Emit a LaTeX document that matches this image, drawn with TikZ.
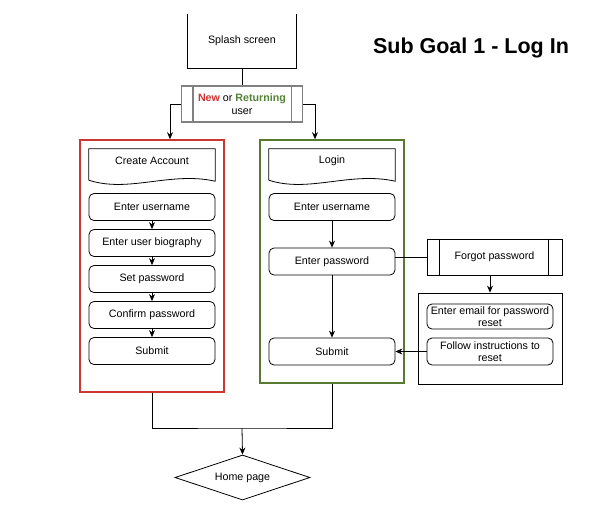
\documentclass[tikz,border=0pt]{standalone}
\usepackage{fontspec}
\setmainfont{Liberation Sans}
\usepackage{tikz}
\usetikzlibrary{shapes.geometric, calc, arrows.meta}

\definecolor{redline}{RGB}{204,55,50}
\definecolor{greenline}{RGB}{88,122,48}
\definecolor{newred}{RGB}{204,51,51}
\definecolor{retgreen}{RGB}{84,130,53}

\tikzset{
    every node/.style={font=\fontsize{10.7}{12.5}\selectfont, align=center},
    arr/.style={line width=0.8pt, -{Stealth[length=7pt,width=6pt]}},
    link/.style={line width=0.8pt},
    stepbox/.style={draw, line width=0.8pt, rounded corners=5pt, minimum width=126pt, minimum height=27pt, inner sep=1pt},
    groupbox/.style={draw, line width=1.6pt, minimum width=144pt},
    procbox/.style={minimum width=135pt, minimum height=36pt},
}

\begin{document}
\begin{tikzpicture}[x=1pt,y=-1pt]
    \useasboundingbox (0,0) rectangle (608,522);

    % title
    \node (title) at (471,48) {\fontsize{21.5}{24}\selectfont\bfseries Sub Goal 1 - Log In};

    % splash screen (top edge outside the page)
    \node (splash) at (242,41) [minimum width=108pt, minimum height=54pt] {Splash screen};
    \draw[link] (splash.north west) -- (splash.south west) -- (splash.south east) -- (splash.north east);

    % new or returning
    \node (user) at (242,104) [draw=gray, line width=1.2pt, minimum width=121pt, minimum height=36pt, inner sep=1pt]
        {\textcolor{newred}{\bfseries New} or \textcolor{retgreen}{\bfseries Returning}\\user};
    \draw[gray, line width=1.2pt] ([xshift=12pt]user.north west) -- ([xshift=12pt]user.south west);
    \draw[gray, line width=1.2pt] ([xshift=-12pt]user.north east) -- ([xshift=-12pt]user.south east);
    \draw[link] (splash.south) -- (user.north);

    % groups
    \node (grpA) at (152,266) [groupbox, draw=redline, minimum height=252pt] {};
    \node (grpB) at (332,261.5) [groupbox, draw=greenline, minimum height=243pt] {};
    \draw[arr] (user.west) -| ([xshift=18pt]grpA.north);
    \draw[arr] (user.east) -| ([xshift=-17pt]grpB.north);

    % create account
    \node (create) at (152,167) [minimum width=126pt, minimum height=36pt] {};
    \draw[link] ([yshift=5pt]create.south west) -- (create.north west) -- (create.north east) -- ([yshift=4pt]create.south east)
        .. controls ([xshift=-45pt,yshift=14pt]create.south east) and ([xshift=40pt,yshift=-8pt]create.south west) .. ([yshift=5pt]create.south west);
    \node at ([yshift=-12pt]create.north) {Create Account};

    \node (nameA) at (152,207) [stepbox] {Enter username};
    \node (bio) at (152,243) [stepbox] {Enter user biography};
    \node (setpw) at (152,279) [stepbox] {Set password};
    \node (confpw) at (152,315) [stepbox] {Confirm password};
    \node (submitA) at (152,351) [stepbox] {Submit};
    \draw[arr] (nameA) -- (bio);
    \draw[arr] (bio) -- (setpw);
    \draw[arr] (setpw) -- (confpw);
    \draw[arr] (confpw) -- (submitA);

    % login
    \node (login) at (332,167) [minimum width=126pt, minimum height=36pt] {};
    \draw[link] ([yshift=5pt]login.south west) -- (login.north west) -- (login.north east) -- ([yshift=4pt]login.south east)
        .. controls ([xshift=-45pt,yshift=14pt]login.south east) and ([xshift=40pt,yshift=-8pt]login.south west) .. ([yshift=5pt]login.south west);
    \node at ([yshift=-12pt]login.north) {Login};

    \node (nameB) at (332,207) [stepbox] {Enter username};
    \node (pass) at (332,261.5) [stepbox] {Enter password};
    \node (submitB) at (332,351.5) [stepbox] {Submit};
    \draw[arr] (nameB) -- (pass);
    \draw[arr] (pass) -- (submitB);

    % forgot password
    \node (forgot) at (494.5,257) [procbox, draw, line width=0.8pt] {Forgot password};
    \draw[link] ([xshift=13pt]forgot.north west) -- ([xshift=13pt]forgot.south west);
    \draw[link] ([xshift=-14pt]forgot.north east) -- ([xshift=-14pt]forgot.south east);
    \draw[link] (forgot.west) -- (forgot.west -| pass.east);

    \node (grpC) at (490,338.5) [draw, line width=0.8pt, minimum width=144pt, minimum height=91pt] {};
    \draw[arr] (grpC.north |- forgot.south) -- (grpC.north);
    \node (email) at (490,316.5) [stepbox, minimum height=25pt, inner sep=0pt] {Enter email for password\\reset};
    \node (follow) at (490,351.5) [stepbox, inner sep=0pt] {Follow instructions to\\reset};
    \draw[arr] (follow.west) -- (submitB.east);

    % home page
    \node (home) at (242.5,477.5) [diamond, draw, line width=0.8pt, aspect=3, inner sep=0pt, minimum width=135pt, minimum height=45pt] {Home page};
    \coordinate (merge) at (242,428);
    \draw[link] (grpA.south) |- (merge) -| (grpB.south);
    \draw[arr] (merge) -- (home.north);
\end{tikzpicture}
\end{document}
